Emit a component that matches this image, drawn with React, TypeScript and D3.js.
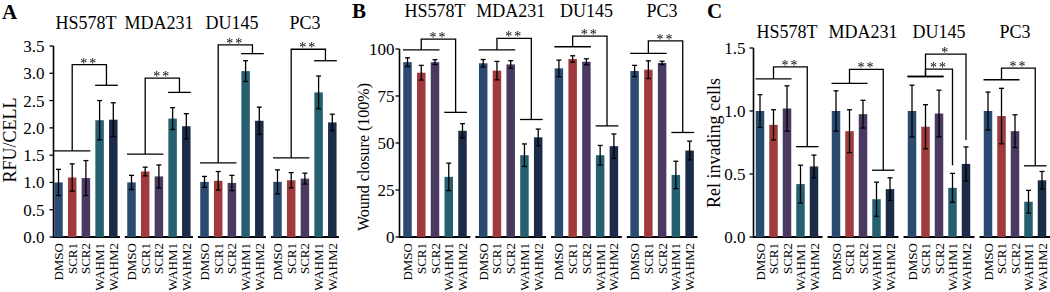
import React from "react";
import * as d3 from "d3";

const groups = ["HS578T", "MDA231", "DU145", "PC3"];
const conditions = ["DMSO", "SCR1", "SCR2", "WAHM1", "WAHM2"];
const condColors = ["#2b4a70", "#a03a3c", "#4a3a62", "#266070", "#1b2b48"];

// Panel A: RFU/CELL
const rfuMean = [
  [1.0, 1.09, 1.08, 2.14, 2.15],
  [1.0, 1.2, 1.11, 2.17, 2.03],
  [1.01, 1.03, 0.99, 3.04, 2.13],
  [1.01, 1.04, 1.07, 2.65, 2.1],
];
const rfuErr = [
  [0.24, 0.25, 0.32, 0.36, 0.31],
  [0.13, 0.08, 0.21, 0.2, 0.23],
  [0.1, 0.17, 0.14, 0.19, 0.25],
  [0.22, 0.14, 0.1, 0.3, 0.15],
];
const rfuTicks = [0, 0.5, 1.0, 1.5, 2.0, 2.5, 3.0, 3.5];

// Panel B: Wound closure
const woundMean = [
  [93.0, 87.4, 93.0, 32, 56.5],
  [92.4, 88.5, 91.8, 43.5, 53.0],
  [89.7, 94.7, 93.2, 43.5, 48.3],
  [88.3, 89.0, 92.6, 33, 46],
];
const woundErr = [
  [2.3, 3.9, 1.3, 7.3, 3.8],
  [2.0, 4.9, 2.0, 6.0, 4.4],
  [4.4, 1.7, 1.6, 5.2, 6.5],
  [3.0, 4.7, 0.9, 7.3, 5.0],
];
const woundTicks = [0, 25, 50, 75, 100];

// Panel C: Rel invading cells
const invadeMean = [
  [1.0, 0.89, 1.02, 0.42, 0.56],
  [1.0, 0.84, 0.975, 0.3, 0.38],
  [1.0, 0.875, 0.98, 0.39, 0.58],
  [1.0, 0.96, 0.84, 0.28, 0.45],
];
const invadeErr = [
  [0.13, 0.12, 0.18, 0.15, 0.09],
  [0.16, 0.17, 0.11, 0.135, 0.09],
  [0.205, 0.175, 0.185, 0.115, 0.135],
  [0.15, 0.22, 0.13, 0.09, 0.07],
];
const invadeTicks = [0, 0.5, 1.0, 1.5];

// Significance brackets: base (control line), top, drop (end), target
const rfuSig = [
  { group: 0, base: 1.58, top: 3.16, drop: 2.78, to: "pair", label: "**" },
  { group: 1, base: 1.52, top: 2.91, drop: 2.65, to: "pair", label: "**" },
  { group: 2, base: 1.36, top: 3.52, drop: 3.36, to: "pair", label: "**" },
  { group: 3, base: 1.45, top: 3.44, drop: 3.23, to: "pair", label: "**" },
];
const woundSig = [
  { group: 0, base: 99.5, top: 105.3, drop: 66.3, to: "pair", label: "**" },
  { group: 1, base: 99.5, top: 105.7, drop: 62.5, to: "pair", label: "**" },
  { group: 2, base: 101.2, top: 106.9, drop: 59.1, to: "pair", label: "**" },
  { group: 3, base: 97.7, top: 104.3, drop: 55.6, to: "pair", label: "**" },
];
const invadeSig = [
  { group: 0, base: 1.255, top: 1.35, drop: 0.717, to: "pair", label: "**" },
  { group: 1, base: 1.22, top: 1.33, drop: 0.53, to: "pair", label: "**" },
  { group: 2, base: 1.274, top: 1.333, drop: 0.57, to: "WAHM1", label: "**" },
  { group: 2, base: 1.274, top: 1.452, drop: 0.77, to: "WAHM2", label: "*" },
  { group: 3, base: 1.248, top: 1.34, drop: 0.565, to: "pair", label: "**" },
];

const FONT = "Liberation Serif";
const BAR_W = 8.5;

type Panel = {
  letter: string;
  letterX: number;
  letterY: number;
  axisX: number;
  first: number;
  groupStep: number;
  barStep: number;
  yMax: number;
  yTop: number;
  ticks: number[];
  fmt: (v: number) => string;
  labelGap: number;
  titleY: number;
  yLabel: string;
  yLabelX: number;
  yLabelY: number;
  yLabelSize: number;
  means: number[][];
  errs: number[][];
  sig: any[];
};

const panels: Panel[] = [
  {
    letter: "A", letterX: 2, letterY: 19, axisX: 53.5, first: 58.5, groupStep: 73, barStep: 13.7,
    yMax: 3.5, yTop: 46, ticks: rfuTicks, fmt: d3.format(".1f"), labelGap: 9, titleY: 29,
    yLabel: "RFU/CELL", yLabelX: 16, yLabelY: 140, yLabelSize: 18,
    means: rfuMean, errs: rfuErr, sig: rfuSig,
  },
  {
    letter: "B", letterX: 352, letterY: 18, axisX: 399.5, first: 407.5, groupStep: 75.7, barStep: 13.75,
    yMax: 100, yTop: 49, ticks: woundTicks, fmt: d3.format("d"), labelGap: 5, titleY: 17,
    yLabel: "Wound closure (100%)", yLabelX: 369, yLabelY: 157, yLabelSize: 16,
    means: woundMean, errs: woundErr, sig: woundSig,
  },
  {
    letter: "C", letterX: 707, letterY: 18, axisX: 753.5, first: 760, groupStep: 76, barStep: 13.5,
    yMax: 1.5, yTop: 48, ticks: invadeTicks, fmt: d3.format(".1f"), labelGap: 8, titleY: 38,
    yLabel: "Rel invading cells", yLabelX: 720, yLabelY: 143, yLabelSize: 18,
    means: invadeMean, errs: invadeErr, sig: invadeSig,
  },
];

function PanelView({ p }: { p: Panel }) {
  const y = d3.scaleLinear().domain([0, p.yMax]).range([237, p.yTop]);
  const gx = d3.scalePoint<string>().domain(groups).range([p.first, p.first + 3 * p.groupStep]);
  const cx = d3.scalePoint<string>().domain(conditions).range([0, 4 * p.barStep]);
  const center = (g: number, c: number) => (gx(groups[g]) as number) + (cx(conditions[c]) as number);
  const y0 = y(0);
  const els: React.ReactNode[] = [];

  // y axis
  els.push(<line key="yaxis" x1={p.axisX} x2={p.axisX} y1={y0 + 1} y2={y(p.yMax)} stroke="#000" strokeWidth={1.6} />);
  p.ticks.forEach((t, i) => {
    els.push(<line key={"t" + i} x1={p.axisX - 4} x2={p.axisX} y1={y(t)} y2={y(t)} stroke="#000" strokeWidth={1.3} />);
    els.push(
      <text key={"tl" + i} x={p.axisX - p.labelGap} y={y(t) + 6} textAnchor="end" fontSize={17} fill="#000" style={{ fontFamily: FONT }}>
        {p.fmt(t)}
      </text>
    );
  });
  els.push(
    <text key="ylab" transform={`translate(${p.yLabelX},${p.yLabelY}) rotate(-90)`} textAnchor="middle" fontSize={p.yLabelSize} fill="#000" style={{ fontFamily: FONT }}>
      {p.yLabel}
    </text>
  );
  els.push(
    <text key="letter" x={p.letterX} y={p.letterY} fontSize={21} fontWeight="bold" fill="#000" style={{ fontFamily: FONT }}>
      {p.letter}
    </text>
  );

  groups.forEach((g, gi) => {
    const gc = center(gi, 2);
    const half = (p.groupStep - 5) / 2;
    const left = Math.max(p.axisX, gc - half);
    els.push(<line key={"base" + gi} x1={left} x2={gc + half} y1={y0} y2={y0} stroke="#000" strokeWidth={2.2} />);
    els.push(
      <text key={"title" + gi} x={gc} y={p.titleY} textAnchor="middle" fontSize={18} fill="#000" style={{ fontFamily: FONT }}>
        {g}
      </text>
    );
    conditions.forEach((c, ci) => {
      const x = center(gi, ci);
      const m = p.means[gi][ci];
      const e = p.errs[gi][ci];
      els.push(<rect key={`b${gi}-${ci}`} x={x - BAR_W / 2} y={y(m)} width={BAR_W} height={y0 - y(m)} fill={condColors[ci]} />);
      els.push(<line key={`e${gi}-${ci}`} x1={x} x2={x} y1={y(m + e)} y2={y(m - e)} stroke="#000" strokeWidth={1.3} />);
      els.push(<line key={`et${gi}-${ci}`} x1={x - 2.5} x2={x + 2.5} y1={y(m + e)} y2={y(m + e)} stroke="#000" strokeWidth={1.3} />);
      els.push(<line key={`eb${gi}-${ci}`} x1={x - 2.5} x2={x + 2.5} y1={y(m - e)} y2={y(m - e)} stroke="#000" strokeWidth={1.3} />);
      els.push(
        <text key={`xl${gi}-${ci}`} transform={`translate(${x + 4.5},${243}) rotate(-90)`} textAnchor="end" fontSize={13} fill="#000" style={{ fontFamily: FONT }}>
          {c}
        </text>
      );
    });
  });

  p.sig.forEach((s, si) => {
    const g = s.group;
    const c0 = center(g, 0);
    const c1 = center(g, 1);
    const c2 = center(g, 2);
    const c3 = center(g, 3);
    const c4 = center(g, 4);
    const xr = s.to === "pair" ? (c3 + c4) / 2 : center(g, conditions.indexOf(s.to));
    const st = { stroke: "#000", strokeWidth: 1.3, fill: "none" };
    els.push(<line key={`sb${si}`} x1={c0 - 4.5} x2={c2 + 4.5} y1={y(s.base)} y2={y(s.base)} {...st} />);
    els.push(<path key={`sp${si}`} d={`M${c1},${y(s.base)}V${y(s.top)}H${xr}V${y(s.drop)}`} {...st} />);
    if (s.to === "pair") {
      els.push(<line key={`sd${si}`} x1={c3 - 4.5} x2={c4 + 4.5} y1={y(s.drop)} y2={y(s.drop)} {...st} />);
    }
    els.push(
      <text key={`sl${si}`} x={(c1 + xr) / 2} y={y(s.top) + 3} textAnchor="middle" fontSize={14} letterSpacing={2} fill="#000" filter="url(#gray)" style={{ fontFamily: FONT }}>
        {s.label}
      </text>
    );
  });

  return <g>{els}</g>;
}

export default function App() {
  return (
    <svg width={1050} height={292} style={{ position: "absolute", left: 0, top: 0, background: "#fff" }}>
      <defs>
        <filter id="gray" x="-20%" y="-20%" width="140%" height="140%">
          <feColorMatrix type="saturate" values="0" />
        </filter>
      </defs>
      <rect width={1050} height={292} fill="#fff" />
      {panels.map((p) => (
        <PanelView key={p.letter} p={p} />
      ))}
    </svg>
  );
}
